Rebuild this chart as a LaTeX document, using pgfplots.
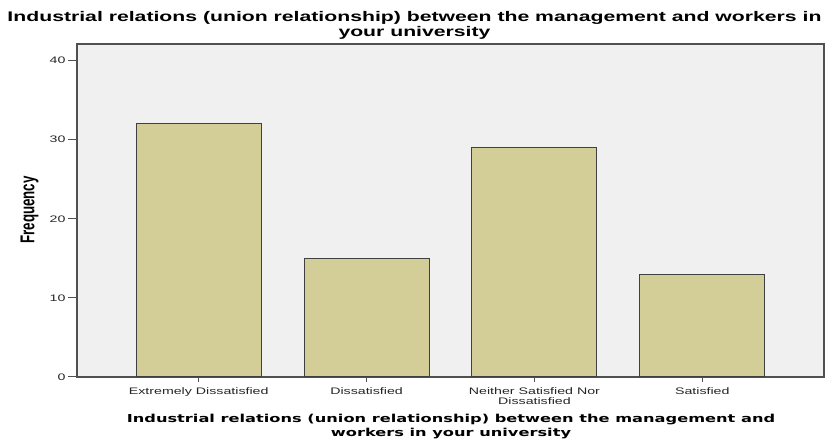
\documentclass[border=0pt]{standalone}
\usepackage{pgfplots}
\pgfplotsset{compat=1.18}
\usepackage{fontspec}
\setmainfont{Liberation Sans}
\newfontfamily\verdana{DejaVu Sans}
\definecolor{bgc}{RGB}{240,240,240}
\definecolor{barc}{RGB}{211,206,151}
\definecolor{framec}{RGB}{80,80,80}
\begin{document}
\begin{tikzpicture}[x=1bp,y=1bp]
\path[use as bounding box] (0,0) rectangle (825,440);
\begin{axis}[
  at={(77bp,63bp)}, anchor=south west,
  scale only axis, width=747bp, height=333bp,
  xmin=-0.725, xmax=3.725, ymin=0, ymax=42.1,
  axis background/.style={fill=bgc},
  axis line style={framec, line width=1.2bp},
  ytick={0,10,20,30,40},
  xtick={0,1,2,3},
  xticklabels={Extremely Dissatisfied, Dissatisfied, {Neither Satisfied Nor\\Dissatisfied}, Satisfied},
  xticklabel style={align=center, font=\fontsize{9.5}{10.5}\selectfont, text=black!85, inner sep=1bp, xscale=1.5},
  yticklabel style={font=\fontsize{9.5}{10}\selectfont, text=black!85, inner sep=1.5bp, xscale=1.5},
  tick align=outside, tick pos=left,
  major tick length=9bp,
  xtick style={/pgfplots/major tick length=5bp, framec, line width=1bp},
  ytick style={framec, line width=1bp},
  /pgf/number format/assume math mode=true,
]
\addplot[ybar, bar width=0.744, fill=barc, draw=black!75, line width=1bp]
  coordinates {(0,32) (1,15) (2,29) (3,13)};
\end{axis}
\node[align=center, xscale=1.52, font=\bfseries\fontsize{14}{15}\selectfont] at (414.5,414.5) {Industrial relations (union relationship) between the management and workers in\\your university};
\node[align=center, xscale=1.48, font=\verdana\bfseries\fontsize{11}{14.5}\selectfont] at (451,13.5) {Industrial relations (union relationship) between the management and\\workers in your university};
\node[inner sep=0pt] at (29.5,230) {\rotatebox{90}{\scalebox{1}[1.5]{\bfseries\fontsize{13.4}{14}\selectfont Frequency}}};
\end{tikzpicture}
\end{document}
